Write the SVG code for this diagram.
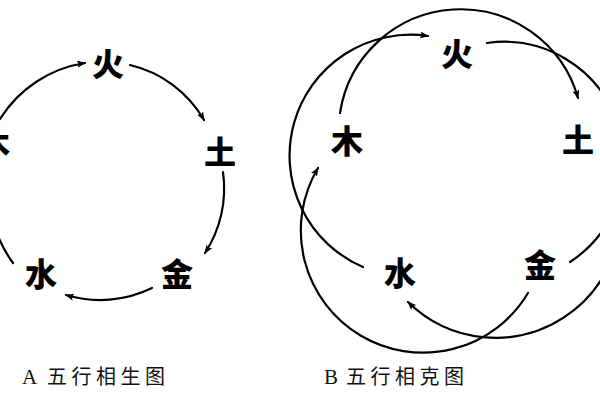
<svg xmlns="http://www.w3.org/2000/svg" width="600" height="400" viewBox="0 0 600 400">
<style>
.bg{fill:#fff}
.el{font-family:"Noto Sans CJK SC","Noto Sans CJK JP",sans-serif;font-size:32px;font-weight:900;fill:#000;text-anchor:middle}
.cap{font-family:"Liberation Serif","Noto Sans CJK SC",serif;font-size:21px;fill:#111}
.capc{font-family:"Noto Sans CJK SC","Noto Sans CJK JP",sans-serif;font-size:20px;font-weight:400;letter-spacing:4.5px}
.arc{fill:none;stroke:#000;stroke-width:2.2;stroke-linecap:round}
.arr{marker-end:url(#ah)}
</style>
<defs>
<marker id="ah" markerUnits="userSpaceOnUse" markerWidth="9" markerHeight="7" refX="8" refY="3.5" orient="auto">
<path d="M0,0 L9,3.5 L0,7 L2,3.5 z" fill="#000"/>
</marker>
</defs>
<rect class="bg" x="0" y="0" width="600" height="400"/>
<g id="connectors">
<g id="sheng">
<path class="arc arr" d="M0,119 A122 122 0 0 1 85,63"/>
<path class="arc arr" d="M130,65 A116 116 0 0 1 204,120"/>
<path class="arc arr" d="M223,172 A118 118 0 0 1 205,253"/>
<path class="arc arr" d="M152,288 A118 118 0 0 1 66,295"/>
<path class="arc" d="M13,263 A125 125 0 0 1 -2,236"/>
</g>
<g id="ke">
<path class="arc arr" d="M363,267 A121 121 0 0 1 428,36"/>
<path class="arc arr" d="M528,293 A122 122 0 0 1 318,168"/>
<path class="arc arr" d="M340,113 A122 122 0 0 1 578,98"/>
<path class="arc" d="M487,43 A120 120 0 0 1 570,262"/>
<path class="arc arr" d="M613,170 A125 125 0 0 1 408,302"/>
</g>
</g>
<g id="a-huo"><text class="el" x="108" y="76">火</text></g>
<g id="a-tu"><text class="el" x="220" y="164">土</text></g>
<g id="a-jin"><text class="el" x="177" y="286">金</text></g>
<g id="a-shui"><text class="el" x="41" y="286">水</text></g>
<g id="a-mu"><text class="el" x="-6" y="155">木</text></g>
<g id="b-huo"><text class="el" x="457" y="66">火</text></g>
<g id="b-tu"><text class="el" x="578" y="152">土</text></g>
<g id="b-mu"><text class="el" x="347" y="153">木</text></g>
<g id="b-shui"><text class="el" x="400" y="285">水</text></g>
<g id="b-jin"><text class="el" x="540" y="277">金</text></g>
<g id="captions">
<text class="cap" x="22" y="384">A<tspan class="capc" x="47">五行相生图</tspan></text>
<text class="cap" x="324" y="384">B<tspan class="capc" x="346">五行相克图</tspan></text>
</g>
</svg>
